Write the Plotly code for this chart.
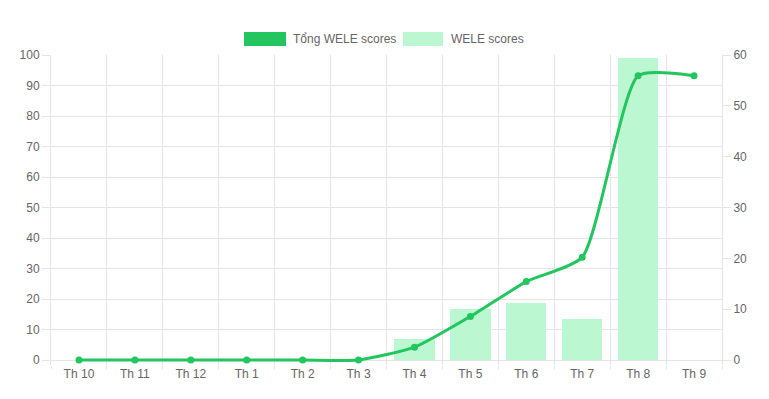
import plotly.graph_objects as go

months = ["Th 10", "Th 11", "Th 12", "Th 1", "Th 2", "Th 3",
          "Th 4", "Th 5", "Th 6", "Th 7", "Th 8", "Th 9"]
total_scores = [0, 0, 0, 0, 0, 0, 4.2, 14.3, 25.7, 33.7, 93.2, 93.2]
month_scores = [0, 0, 0, 0, 0, 0, 4.1, 10.1, 11.3, 8.0, 59.4, 0]
left_ticks = [0, 10, 20, 30, 40, 50, 60, 70, 80, 90, 100]
right_ticks = [0, 10, 20, 30, 40, 50, 60]

LINE = "#22c55e"
BAR = "#bbf7d0"
GRID = "#e5e5e5"
TXT = "#666666"
FONT = "Liberation Sans, Arial, sans-serif"

W, H = 769, 399
L, R, T = 51, 47, 55
ZERO_Y = 360          # pixel row of the value 0
EXT = 5               # extra room below zero so the line at 0 is not clipped
B = H - ZERO_Y - EXT
ph0 = ZERO_Y - T      # pixel height from 0 to the top value
pw = W - L - R

left_max, right_max = 100, 60
left_range = [-EXT * left_max / ph0, left_max]
right_range = [-EXT * right_max / ph0, right_max]


def px(x):
    return (x - L) / pw


def py(y):
    return (H - B - y) / (H - B - T)


fig = go.Figure()
fig.add_trace(go.Bar(
    x=months, y=month_scores, yaxis="y", width=0.72,
    marker=dict(color=BAR, line=dict(width=0)), name="WELE scores",
    showlegend=False, hoverinfo="x+y"))
fig.add_trace(go.Scatter(
    x=months, y=total_scores, yaxis="y2", mode="lines+markers",
    line=dict(color=LINE, width=3, shape="spline", smoothing=0.55),
    marker=dict(color=LINE, size=7), name="Tổng WELE scores",
    cliponaxis=False, showlegend=False))

tick_font = dict(family=FONT, size=12, color=TXT)

fig.update_layout(
    width=W, height=H,
    margin=dict(l=L, r=R, t=T, b=B, pad=0),
    plot_bgcolor="white", paper_bgcolor="white",
    font=dict(family=FONT, size=12, color=TXT),
    showlegend=False, bargap=0,
    xaxis=dict(type="category", tickson="boundaries", range=[-0.5, 11.5],
               showgrid=True, gridcolor=GRID, zeroline=False,
               showline=False, ticks="outside", ticklen=8 - EXT,
               tickcolor=GRID, tickfont=tick_font),
    yaxis=dict(side="right", range=right_range, tickvals=right_ticks,
               showgrid=False, zeroline=False, showline=True,
               linecolor=GRID, ticks="outside", ticklen=8,
               tickcolor=GRID, tickfont=tick_font),
    yaxis2=dict(side="left", overlaying="y", range=left_range,
                tickvals=left_ticks, showgrid=True, gridcolor=GRID,
                zeroline=False, showline=True, linecolor=GRID,
                ticks="outside", ticklen=8, tickcolor=GRID,
                tickfont=tick_font),
)

# legend drawn as Chart.js-style boxes
legend_items = [("Tổng WELE scores", LINE, 244, 286, 291),
                ("WELE scores", BAR, 403, 443, 449)]
for label, color, x0, x1, tx in legend_items:
    fig.add_shape(type="rect", xref="paper", yref="paper",
                  x0=px(x0), x1=px(x1), y0=py(46), y1=py(32),
                  fillcolor=color, line=dict(width=0))
    fig.add_annotation(xref="paper", yref="paper", x=px(tx), y=py(39),
                       text=label, showarrow=False, xanchor="left",
                       yanchor="middle", font=tick_font)

fig.write_html("out.html",
               config={"displayModeBar": False},
               post_script="document.body.style.margin='0';")
